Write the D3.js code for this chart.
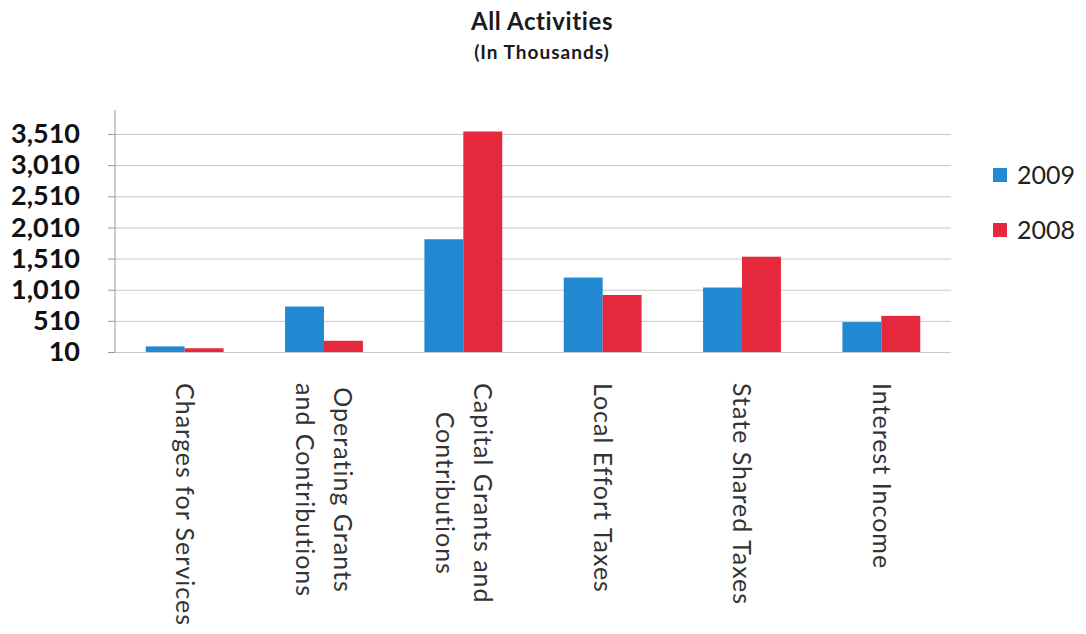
<!DOCTYPE html>
<html>
<head>
<meta charset="utf-8">
<script src="https://cdn.jsdelivr.net/npm/d3@7"></script>
<style>
  html, body { margin: 0; padding: 0; background: #fff; }
  svg { display: block; }
</style>
</head>
<body>
<svg id="chart" width="1086" height="634"></svg>
<script>
// ---- data ----
const categories = [
  ["Charges for Services"],
  ["Operating Grants", "and Contributions"],
  ["Capital Grants and", "Contributions"],
  ["Local Effort Taxes"],
  ["State Shared Taxes"],
  ["Interest Income"]
];
const seriesNames = ["2009", "2008"];
const values2009 = [100, 740, 1820, 1205, 1045, 490];
const values2008 = [70, 190, 3550, 925, 1540, 590];
const yTicks = [10, 510, 1010, 1510, 2010, 2510, 3010, 3510];
const colors = ["#2188d1", "#e5283b"];

const titleText = "All Activities";
const subtitleText = "(In Thousands)";

// ---- layout ----
const svg = d3.select("#chart");
const plotLeft = 115, plotRight = 951, plotTop = 134, plotBottom = 352;

const catKeys = categories.map(c => c.join(" "));
const x0 = d3.scaleBand().domain(catKeys).range([plotLeft, plotRight]).padding(0);
const x1 = d3.scaleBand().domain(seriesNames).range([0, x0.bandwidth()])
  .paddingInner(0).paddingOuter(0.79);
const y = d3.scaleLinear().domain([10, 3510]).range([plotBottom, plotTop]);

// title
svg.append("text").attr("x", 542).attr("y", 30).attr("text-anchor", "middle")
  .style("font-family", "Lato, sans-serif").style("font-weight", "bold")
  .style("font-size", "24px").style("letter-spacing", "0.6px")
  .attr("fill", "#1a1a1a").text(titleText);
svg.append("text").attr("x", 542).attr("y", 59).attr("text-anchor", "middle")
  .style("font-family", "Lato, sans-serif").style("font-weight", "bold")
  .style("font-size", "19px").style("letter-spacing", "1px")
  .attr("fill", "#1a1a1a").text(subtitleText);

// gridlines
const grid = svg.append("g").attr("transform", `translate(${plotLeft},0)`)
  .call(d3.axisLeft(y).tickValues(yTicks).tickSize(-(plotRight - plotLeft)).tickFormat(""));
grid.select(".domain").remove();
grid.selectAll(".tick line").attr("stroke", "#c8c8c8").attr("stroke-width", 1);

// y axis
const yAxis = svg.append("g").attr("transform", `translate(${plotLeft},0)`)
  .call(d3.axisLeft(y).tickValues(yTicks).tickSizeInner(7).tickSizeOuter(0)
    .tickPadding(28).tickFormat(d3.format(",")));
yAxis.select(".domain").remove();
yAxis.selectAll(".tick line").attr("stroke", "#9a9a9a");
yAxis.selectAll(".tick text")
  .style("font-family", "Lato, sans-serif").style("font-weight", "bold")
  .style("font-size", "27px").attr("fill", "#111");
// vertical axis line (extends above top gridline like the original)
svg.append("line").attr("x1", plotLeft).attr("x2", plotLeft)
  .attr("y1", y(3510) - 24).attr("y2", y(10))
  .attr("stroke", "#9a9a9a").attr("stroke-width", 1);

// bars
const allValues = [values2009, values2008];
const groups = svg.append("g").selectAll("g").data(catKeys).join("g")
  .attr("transform", d => `translate(${x0(d)},0)`);
groups.selectAll("rect")
  .data((d, i) => seriesNames.map((s, j) => ({ s, v: allValues[j][i], j })))
  .join("rect")
  .attr("x", d => x1(d.s))
  .attr("width", x1.bandwidth())
  .attr("y", d => y(d.v))
  .attr("height", d => y(10) - y(d.v))
  .attr("fill", d => colors[d.j]);

// x labels (rotated 90deg clockwise)
const labelStart = 383;
const lineGap = 38;
categories.forEach((lines, i) => {
  const cx = x0(catKeys[i]) + x0.bandwidth() / 2;
  const g = svg.append("g");
  const t = g.append("text")
    .style("font-family", "Lato, sans-serif")
    .style("font-size", "25px").style("letter-spacing", "1px")
    .attr("fill", "#333")
    .attr("text-anchor", "middle");
  const n = lines.length;
  lines.forEach((ln, k) => {
    const off = ((n - 1) / 2 - k) * lineGap;
    t.append("tspan").attr("x", 0).attr("y", -off).attr("dy", "0.35em").text(ln);
  });
  let maxLen = 0;
  t.selectAll("tspan").each(function () { maxLen = Math.max(maxLen, this.getComputedTextLength()); });
  g.attr("transform", `translate(${cx},${labelStart + maxLen / 2}) rotate(90)`);
});

// legend
const legend = svg.append("g").selectAll("g").data(seriesNames).join("g")
  .attr("transform", (d, i) => `translate(993,${175 + i * 55})`);
legend.append("rect").attr("x", 0).attr("y", -7).attr("width", 14).attr("height", 14)
  .attr("fill", (d, i) => colors[i]);
legend.append("text").attr("x", 24).attr("y", 0).attr("dy", "0.36em")
  .style("font-family", "Lato, sans-serif").style("font-size", "25px")
  .attr("fill", "#222").text(d => d);
</script>
</body>
</html>
